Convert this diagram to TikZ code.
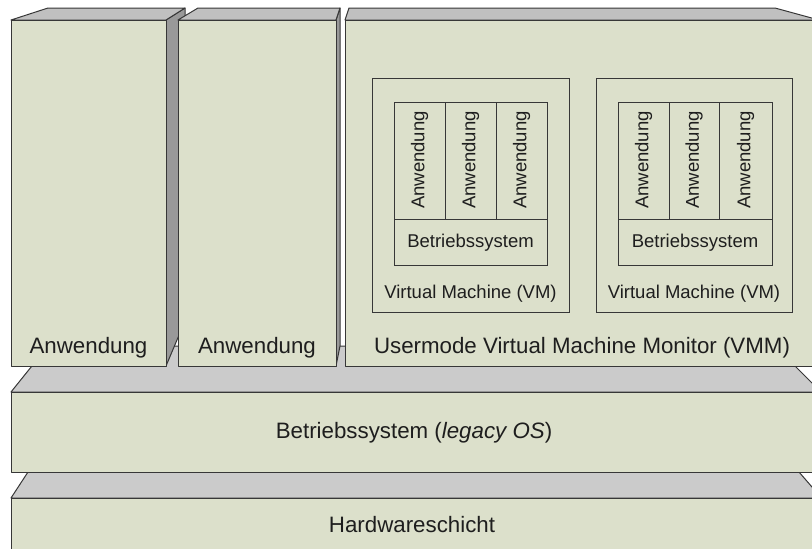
\documentclass[tikz,border=0pt]{standalone}
\usepackage{fontspec}
\setmainfont{Liberation Sans}
\definecolor{facec}{RGB}{220,224,203}
\definecolor{topc}{RGB}{192,192,192}
\definecolor{slabc}{RGB}{203,203,203}
\definecolor{sidec}{RGB}{153,153,153}
\definecolor{linec}{RGB}{55,55,55}
\definecolor{txtc}{RGB}{30,30,30}
\begin{document}
\begin{tikzpicture}[x=1pt,y=-1pt,
  edge/.style={draw=linec, line width=1pt, line join=round},
  frontface/.style={edge, fill=facec},
  topface/.style={edge, fill=topc},
  slabface/.style={edge, fill=slabc},
  sideface/.style={edge, fill=sidec},
  thinbox/.style={draw=linec, line width=0.7pt},
  bigtext/.style={font=\fontsize{22.3}{26}\selectfont, text=txtc, inner sep=0pt},
  smalltext/.style={font=\fontsize{18.5}{22}\selectfont, text=txtc, inner sep=0pt}]
\useasboundingbox (0,0) rectangle (812,549);
\clip (0,0) rectangle (812,549);

% hardware layer
\path[slabface] (11,498) -- (28,472) -- (799,472) -- (821.5,498) -- cycle;
\path[frontface] (11,498) rectangle (840,570);
% legacy operating system layer
\path[slabface] (11,392) -- (48,346) -- (775,346) -- (821,392) -- cycle;
\path[frontface] (11,392) rectangle (840,472);

% first application block
\path[sideface] (166,20) -- (185,8) -- (185,321) -- (166,366) -- cycle;
\path[topface] (11,20) -- (48,8) -- (185,8) -- (166,20) -- cycle;
\path[frontface] (11,20) rectangle (166,366);
% second application block
\path[sideface] (336,20) -- (340,8) -- (340,346) -- (336,366) -- cycle;
\path[topface] (178,20) -- (198,8) -- (340,8) -- (336,20) -- cycle;
\path[frontface] (178,20) rectangle (336,366);
% usermode VMM block
\path[topface] (345,20) -- (349,8) -- (775,8) -- (819,20) -- cycle;
\path[frontface] (345,20) rectangle (840,366);

% virtual machines
\foreach \i/\ox/\ow/\ia/\ib/\ic/\id in {1/372/197/394/445/496/547, 2/596/196/618/669/719/772}{
  \draw[thinbox] (\ox,78) rectangle ++(\ow,234);
  \draw[thinbox] (\ia,102) rectangle (\id,265);
  \draw[thinbox] (\ia,219) -- (\id,219);
  \draw[thinbox] (\ib,102) -- (\ib,219);
  \draw[thinbox] (\ic,102) -- (\ic,219);
  \node[smalltext, rotate=90] (vm\i-app1) at ({(\ia+\ib)/2},160) {Anwendung};
  \node[smalltext, rotate=90] (vm\i-app2) at ({(\ib+\ic)/2},160) {Anwendung};
  \node[smalltext, rotate=90] (vm\i-app3) at ({(\ic+\id)/2},160) {Anwendung};
  \node[smalltext, anchor=base] (vm\i-os) at ({(\ia+\id)/2},247) {Betriebssystem};
  \node[smalltext, anchor=base] (vm\i-label) at ({\ox+\ow/2},298) {Virtual Machine (VM)};
}

% layer labels
\node[bigtext, anchor=base] (app1) at (88.5,353) {Anwendung};
\node[bigtext, anchor=base] (app2) at (257,353) {Anwendung};
\node[bigtext, anchor=base] (vmm) at (582,353) {Usermode Virtual Machine Monitor (VMM)};
\node[bigtext, anchor=base] (legacy) at (414,438) {Betriebssystem (\textit{legacy OS})};
\node[bigtext, anchor=base] (hw) at (412,532) {Hardwareschicht};
\end{tikzpicture}
\end{document}
